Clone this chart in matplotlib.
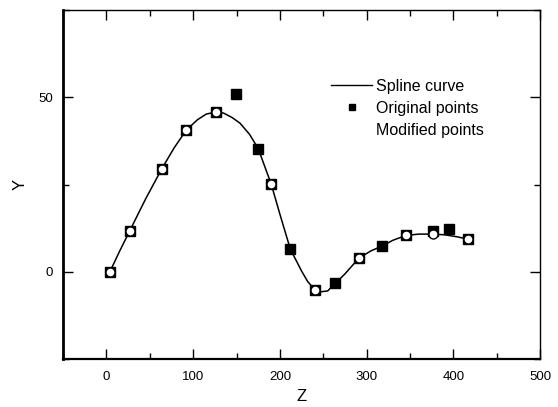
import matplotlib
matplotlib.use('Agg')
import matplotlib.pyplot as plt
from matplotlib.lines import Line2D
from matplotlib.ticker import MultipleLocator

plt.rcParams['font.family'] = ['Liberation Sans', 'DejaVu Sans']

# spline curve
curve_z = [4, 15, 27, 45, 64, 78, 92, 105, 115, 126, 135, 145, 154, 165, 175,
           190, 200, 212, 225, 232, 240, 245, 255, 264, 275, 291, 305, 318,
           330, 345, 360, 376, 390, 405, 417]
curve_y = [0, 5.8, 11.8, 20.8, 29.6, 35.5, 40.6, 43.6, 45.2, 45.8, 45.5, 44.2,
           42.6, 39.4, 35.3, 25.1, 16.5, 6.5, 0.2, -2.8, -5.1, -5.8, -5.5,
           -3.3, -0.6, 3.9, 6.0, 7.4, 9.0, 10.4, 10.8, 10.8, 10.6, 10.0, 9.3]

# original points (filled squares)
orig_z = [4, 27, 64, 92, 126, 149, 175, 190, 212, 240, 264, 291, 318, 345, 376, 395, 417]
orig_y = [0, 11.8, 29.6, 40.6, 45.8, 51.0, 35.3, 25.1, 6.5, -5.1, -3.3, 3.9, 7.4, 10.4, 11.6, 12.4, 9.3]

# modified points (open markers)
mod_z = [4, 27, 64, 92, 126, 190, 240, 291, 345, 376, 417]
mod_y = [0, 11.8, 29.6, 40.6, 45.8, 25.1, -5.1, 3.9, 10.4, 10.8, 9.3]

fig = plt.figure(figsize=(5.58, 4.07), dpi=100)
ax = fig.add_axes([0.113, 0.118, 0.855, 0.857])

ax.plot(curve_z, curve_y, color='black', lw=1.1, zorder=2)
ax.plot(orig_z, orig_y, 's', color='black', ms=7, zorder=3)
ax.plot(mod_z, mod_y, 'o', mfc='white', mec='black', mew=1.0, ms=6.5, zorder=4)

ax.set_xlim(-50, 500)
ax.set_ylim(-25, 75)
ax.set_xticks([0, 100, 200, 300, 400, 500])
ax.set_yticks([0, 50])
ax.xaxis.set_minor_locator(MultipleLocator(50))
ax.yaxis.set_minor_locator(MultipleLocator(25))
ax.tick_params(which='both', direction='in', top=True, right=True, labelsize=9.5, width=1)
ax.tick_params(which='major', length=7)
ax.tick_params(which='minor', length=4)
ax.tick_params(axis='x', pad=9)
ax.tick_params(axis='y', pad=7)

ax.spines['left'].set_linewidth(2)
ax.spines['bottom'].set_linewidth(1.6)
ax.spines['top'].set_linewidth(1)
ax.spines['right'].set_linewidth(1)

ax.set_xlabel('Z', fontsize=12, labelpad=4)
ax.set_ylabel('Y', fontsize=12, labelpad=8)

handles = [
    Line2D([], [], color='black', lw=1),
    Line2D([], [], marker='s', color='black', ls='none', ms=5),
    Line2D([], [], ls='none'),
]
labels = ['Spline curve', 'Original points', 'Modified points']
ax.legend(handles, labels, loc='upper left', bbox_to_anchor=(0.548, 0.822),
          frameon=False, fontsize=11.5, handlelength=2.6, handletextpad=0.2,
          labelspacing=0.45, borderaxespad=0)

fig.savefig('out.png', dpi=100)
